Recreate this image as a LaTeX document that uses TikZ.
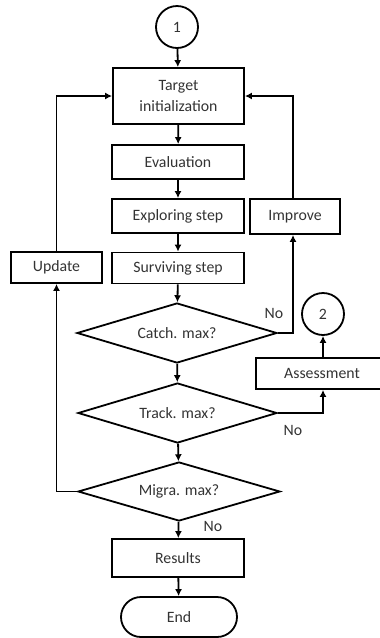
\documentclass[tikz,border=0pt]{standalone}
\usepackage{fontspec}
\setmainfont{Carlito}
\usetikzlibrary{shapes.geometric,shapes.misc,arrows.meta}
\begin{document}
\begin{tikzpicture}[x=1pt,y=-1pt,
  every node/.style={font=\fontsize{15.8}{19}\selectfont,text=black!80},
  box/.style={draw=black,line width=1.8pt,rectangle,inner sep=0pt,align=center},
  dec/.style={draw=black,line width=1.8pt,diamond,inner sep=0pt,aspect=3.3},
  conn/.style={draw=black,line width=1.8pt,minimum size=42pt,circle,inner sep=0pt},
  term/.style={draw=black,line width=1.8pt,rounded rectangle,inner sep=0pt},
  arr/.style={line width=1.8pt,-{Latex[length=7pt,width=7pt]}},
  lab/.style={inner sep=0pt}]
\useasboundingbox (0,0) rectangle (380,638);
\node[conn] (c1) at (177,27) {1};
\node[box,minimum width=131pt,minimum height=56pt] (ti) at (178.5,96) {Target\\[2pt]initialization};
\node[box,minimum width=132pt,minimum height=34pt] (ev) at (178,162) {Evaluation};
\node[box,minimum width=132pt,minimum height=34pt] (ex) at (178,216) {Exploring step};
\node[box,minimum width=132pt,minimum height=31pt] (sv) at (178,268) {Surviving step};
\node[box,minimum width=90pt,minimum height=35pt] (im) at (295,216.5) {Improve};
\node[box,minimum width=91pt,minimum height=31pt] (up) at (56.5,267.5) {Update};
\node[dec,minimum width=200pt,minimum height=60pt] (ca) at (177,333) {Catch. max?};
\node[dec,minimum width=199pt,minimum height=60pt] (tr) at (177.5,413) {Track. max?};
\node[dec,minimum width=202pt,minimum height=59pt] (mi) at (179,491.5) {Migra. max?};
\node[box,minimum width=132pt,minimum height=38pt] (re) at (178,558) {Results};
\node[term,minimum width=116pt,minimum height=40pt] (en) at (179,617) {End};
\node[conn] (c2) at (323,314) {2};
\node[box,minimum width=132pt,minimum height=31pt] (as) at (322,373.5) {Assessment};
\draw[arr] (c1) -- (ti);
\draw[arr] (ti) -- (ev);
\draw[arr] (ev) -- (ex);
\draw[arr] (ex) -- (sv);
\draw[arr] (sv) -- (ca);
\draw[arr] (ca) -- (tr);
\draw[arr] (tr) -- (mi);
\draw[arr] (mi) -- (re);
\draw[arr] (re) -- (en);
\draw[arr] (ca.east) -| ([xshift=-2pt]im.south);
\draw[arr] ([xshift=-2pt]im.north) |- (ti.east);
\draw[arr] (mi.west) -| (up.south);
\draw[arr] (up.north) |- (ti.west);
\draw[arr] (tr.east) -| ([xshift=1pt]as.south);
\draw[arr] ([xshift=1pt]as.north) -- (c2.south);
\node[lab] (n1) at (274,313) {No};
\node[lab] (n2) at (293,430) {No};
\node[lab] (n3) at (213,526) {No};
\end{tikzpicture}
\end{document}
